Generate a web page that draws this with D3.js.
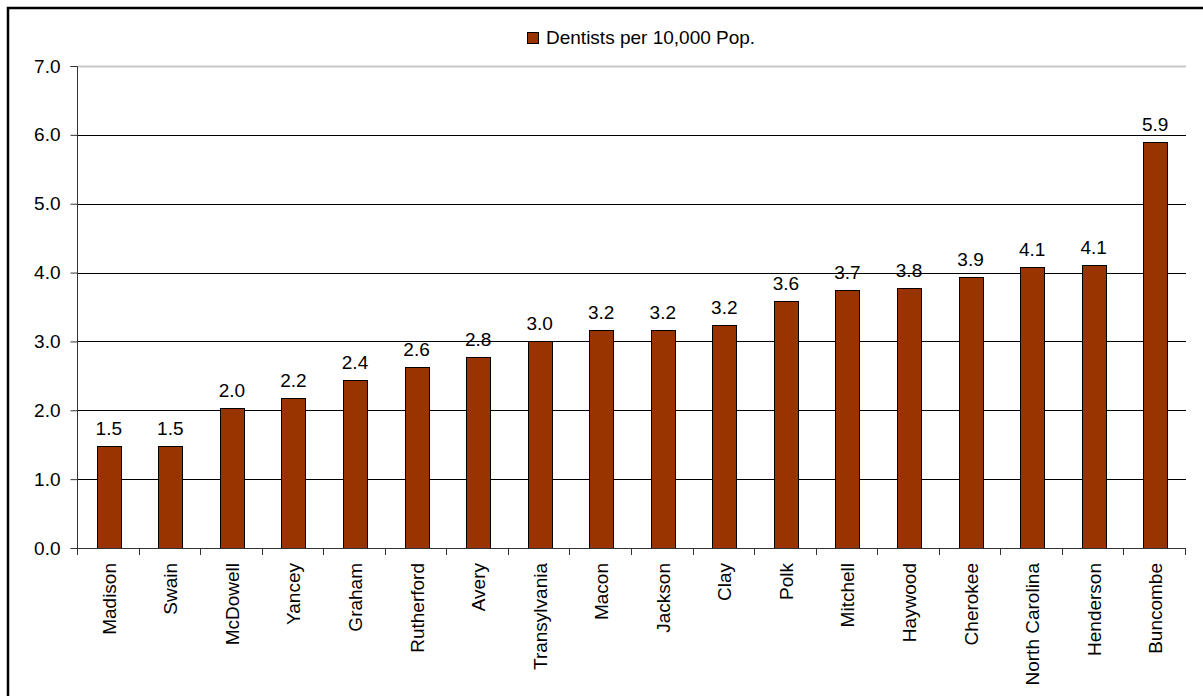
<!DOCTYPE html>
<html>
<head>
<meta charset="utf-8">
<script src="https://cdn.jsdelivr.net/npm/d3@7"></script>
<style>
  html, body { margin: 0; padding: 0; background: #fff; }
  svg { display: block; }
  text { font-family: "Liberation Sans", Arial, sans-serif; fill: #000; }
</style>
</head>
<body>
<svg id="chart" width="1203" height="696"></svg>
<script>
const categories = ["Madison","Swain","McDowell","Yancey","Graham","Rutherford","Avery","Transylvania","Macon","Jackson","Clay","Polk","Mitchell","Haywood","Cherokee","North Carolina","Henderson","Buncombe"];
const values = [1.48, 1.48, 2.03, 2.18, 2.44, 2.63, 2.78, 3.00, 3.16, 3.17, 3.24, 3.59, 3.75, 3.77, 3.93, 4.08, 4.11, 5.90];
const valueLabels = ["1.5","1.5","2.0","2.2","2.4","2.6","2.8","3.0","3.2","3.2","3.2","3.6","3.7","3.8","3.9","4.1","4.1","5.9"];
const yTicks = [0, 1, 2, 3, 4, 5, 6, 7];
const seriesName = "Dentists per 10,000 Pop.";

const svg = d3.select("#chart");
const W = 1203, H = 696;
const plot = { left: 78, right: 1186, top: 66, bottom: 548 };
const barColor = "#993300";

// outer frame
svg.append("rect").attr("x", 8).attr("y", 8).attr("width", W + 10).attr("height", H + 10)
  .attr("fill", "#fff").attr("stroke", "#000").attr("stroke-width", 2.5);

const x = d3.scaleBand().domain(categories).range([plot.left, plot.right]).paddingInner(0.61).paddingOuter(0.305);
const y = d3.scaleLinear().domain([0, 7]).range([plot.bottom, plot.top]);

// gridlines
svg.append("g").selectAll("line").data(yTicks.filter(d => d > 0)).join("line")
  .attr("x1", plot.left).attr("x2", plot.right)
  .attr("y1", d => Math.round(y(d)) + 0.5).attr("y2", d => Math.round(y(d)) + 0.5)
  .attr("stroke", d => d === 7 ? "#c8c8c8" : "#000").attr("stroke-width", d => d === 7 ? 2 : 1);

// bars
svg.append("g").selectAll("rect").data(categories).join("rect")
  .attr("x", (d) => Math.round(x(d)) + 0.5)
  .attr("width", Math.round(x.bandwidth()))
  .attr("y", (d, i) => Math.round(y(values[i])) + 0.5)
  .attr("height", (d, i) => Math.round(y(0)) - Math.round(y(values[i])))
  .attr("fill", barColor).attr("stroke", "#000").attr("stroke-width", 1);

// value labels
svg.append("g").selectAll("text").data(categories).join("text")
  .attr("x", d => x(d) + x.bandwidth() / 2)
  .attr("y", (d, i) => y(values[i]) - 11)
  .attr("text-anchor", "middle").attr("font-size", 19)
  .text((d, i) => valueLabels[i]);

// y axis
const yAxis = d3.axisLeft(y).tickValues(yTicks).tickSize(7).tickPadding(10).tickFormat(d3.format(".1f"));
const gy = svg.append("g").attr("transform", `translate(${plot.left - 0.5},0)`).call(yAxis);
gy.select(".domain").attr("stroke", "#333").attr("d", `M-7,${plot.top}.5H0V${plot.bottom}.5`);
gy.selectAll(".tick line").attr("stroke", "#333");
gy.selectAll(".tick text").attr("font-size", 19).attr("font-family", "Liberation Sans, Arial, sans-serif").attr("fill", "#000");

// x axis baseline and ticks between categories
svg.append("line").attr("x1", plot.left - 7).attr("x2", plot.right)
  .attr("y1", plot.bottom + 0.5).attr("y2", plot.bottom + 0.5).attr("stroke", "#333");
const step = x.step();
const boundaries = d3.range(categories.length + 1).map(i => plot.left + i * step);
svg.append("g").selectAll("line").data(boundaries).join("line")
  .attr("x1", d => Math.round(d) - 0.5).attr("x2", d => Math.round(d) - 0.5)
  .attr("y1", plot.bottom).attr("y2", plot.bottom + 7).attr("stroke", "#333");

// category labels
svg.append("g").selectAll("text").data(categories).join("text")
  .attr("transform", d => `translate(${x(d) + x.bandwidth() / 2 + 7},${plot.bottom + 15}) rotate(-90)`)
  .attr("text-anchor", "end").attr("font-size", 19)
  .text(d => d);

// legend
const lg = svg.append("g");
lg.append("rect").attr("x", 527.5).attr("y", 32.5).attr("width", 11).attr("height", 11)
  .attr("fill", barColor).attr("stroke", "#000");
lg.append("text").attr("x", 546).attr("y", 44).attr("font-size", 19).text(seriesName);
</script>
</body>
</html>
